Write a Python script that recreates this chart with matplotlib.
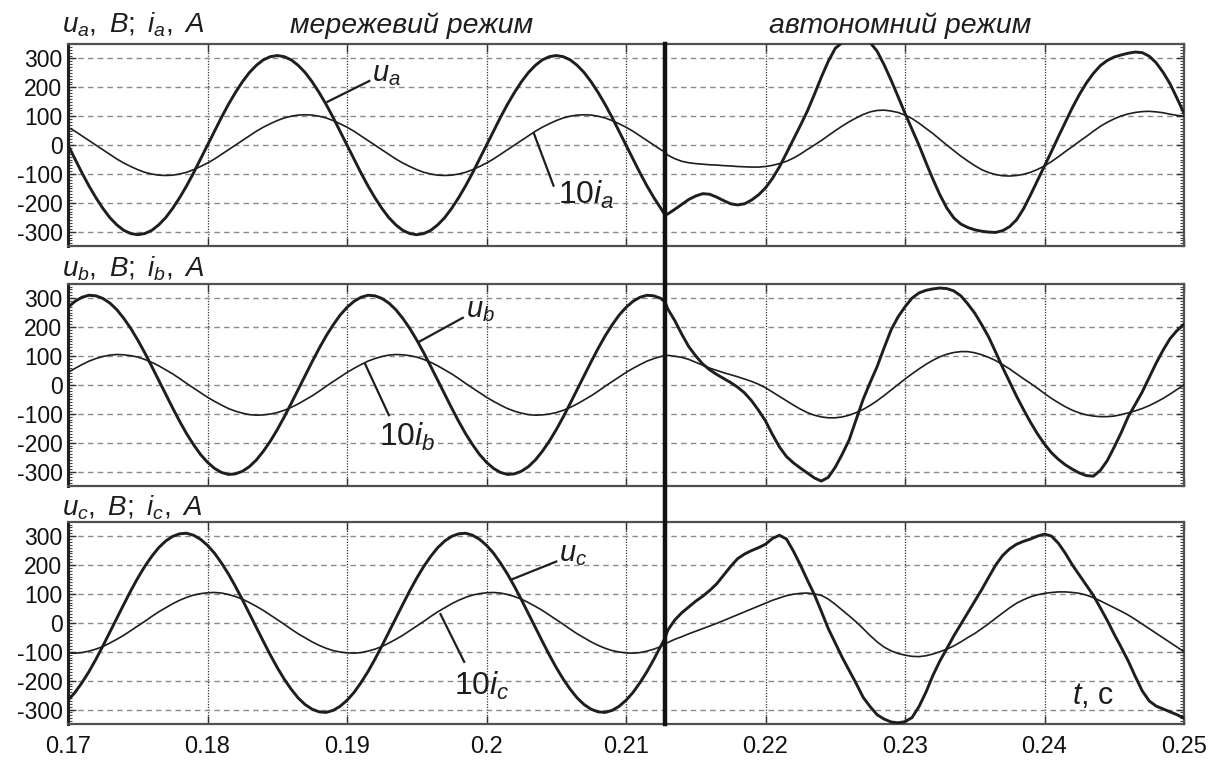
import numpy as np
import matplotlib
matplotlib.use("Agg")
import matplotlib.pyplot as plt
from matplotlib.ticker import MultipleLocator, FixedLocator
from matplotlib.lines import Line2D
import matplotlib.transforms as mtransforms

plt.rcParams['font.family'] = ['Liberation Sans', 'DejaVu Sans']
plt.rcParams['mathtext.fontset'] = 'custom'
plt.rcParams['mathtext.it'] = 'Liberation Sans:italic'
plt.rcParams['mathtext.rm'] = 'Liberation Sans'
plt.rcParams['mathtext.bf'] = 'Liberation Sans:bold'
plt.rcParams['axes.unicode_minus'] = False

# ---- data -------------------------------------------------------------
# sampling instants, ms: grid-connected part (0.5 ms step), switching
# instant, island part (0.5 ms step)
t_ms = np.r_[np.arange(340, 426) / 2, 212.8, np.arange(426, 501) / 2]
t = t_ms / 1000.0
t_switch = 0.2128

# phase a: voltage, V and 10x current, A
u_a = [0, -48, -96, -141, -182, -219, -251, -276, -295, -306,
       -310, -306, -295, -276, -251, -219, -182, -141, -96, -48,
       0, 48, 96, 141, 182, 219, 251, 276, 295, 306,
       310, 306, 295, 276, 251, 219, 182, 141, 96, 48,
       0, -48, -96, -141, -182, -219, -251, -276, -295, -306,
       -310, -306, -295, -276, -251, -219, -182, -141, -96, -48,
       0, 48, 96, 141, 182, 219, 251, 276, 295, 306,
       310, 306, 295, 276, 251, 219, 182, 141, 96, 48,
       0, -48, -96, -141, -182, -219,
       -242,
       -238, -222, -205, -188, -176, -168, -170, -180, -192, -203,
       -207, -203, -190, -172, -148, -115, -75, -28, 20, 68,
       118, 175, 235, 290, 335, 355, 365, 370, 368, 355,
       325, 278, 225, 168, 110, 55, 0, -60, -118, -172,
       -218, -252, -273, -285, -293, -298, -301, -302, -296, -282,
       -258, -220, -172, -122, -72, -22, 30, 80, 130, 175,
       215, 248, 275, 293, 305, 312, 318, 322, 320, 308,
       285, 252, 212, 162, 110]
i_a = [62, 48, 32, 16, 0, -16, -32, -48, -62, -74,
       -85, -94, -100, -104, -105, -104, -100, -94, -85, -74,
       -62, -48, -32, -16, 0, 16, 32, 48, 62, 74,
       85, 94, 100, 104, 105, 104, 100, 94, 85, 74,
       62, 48, 32, 16, 0, -16, -32, -48, -62, -74,
       -85, -94, -100, -104, -105, -104, -100, -94, -85, -74,
       -62, -48, -32, -16, 0, 16, 32, 48, 62, 74,
       85, 94, 100, 104, 105, 104, 100, 94, 85, 74,
       62, 48, 32, 16, 0, -16,
       -24,
       -35, -47, -56, -61, -64, -66, -68, -69, -71, -72,
       -74, -75, -76, -76, -74, -70, -64, -56, -45, -31,
       -15, 0, 16, 33, 50, 66, 81, 94, 106, 115,
       120, 121, 118, 113, 104, 92, 76, 58, 40, 20,
       0, -19, -38, -55, -71, -85, -95, -102, -106, -107,
       -105, -101, -94, -84, -72, -57, -40, -22, -5, 13,
       30, 48, 65, 79, 91, 101, 108, 113, 116, 117,
       115, 112, 107, 103, 100]

# phase b
u_b = [268, 289, 303, 310, 308, 299, 283, 260, 230, 195,
       155, 111, 64, 16, -32, -80, -126, -169, -207, -241,
       -268, -289, -303, -310, -308, -299, -283, -260, -230, -195,
       -155, -111, -64, -16, 32, 80, 126, 169, 207, 241,
       268, 289, 303, 310, 308, 299, 283, 260, 230, 195,
       155, 111, 64, 16, -32, -80, -126, -169, -207, -241,
       -268, -289, -303, -310, -308, -299, -283, -260, -230, -195,
       -155, -111, -64, -16, 32, 80, 126, 169, 207, 241,
       268, 289, 303, 310, 308, 299,
       286,
       262, 222, 175, 132, 100, 72, 52, 36, 22, 8,
       -8, -28, -55, -88, -125, -172, -215, -248, -270, -288,
       -305, -322, -333, -320, -285, -240, -190, -120, -50, 8,
       63, 128, 190, 235, 270, 300, 318, 327, 332, 335,
       333, 325, 308, 280, 248, 208, 165, 113, 60, 10,
       -40, -86, -130, -170, -205, -235, -258, -277, -292, -305,
       -314, -316, -296, -262, -215, -165, -110, -68, -25, 25,
       75, 120, 160, 188, 210]
i_b = [43, 57, 70, 82, 91, 98, 103, 105, 104, 101,
       96, 88, 78, 66, 52, 38, 22, 5, -11, -27,
       -43, -57, -70, -82, -91, -98, -103, -105, -104, -101,
       -96, -88, -78, -66, -52, -38, -22, -5, 11, 27,
       43, 57, 70, 82, 91, 98, 103, 105, 104, 101,
       96, 88, 78, 66, 52, 38, 22, 5, -11, -27,
       -43, -57, -70, -82, -91, -98, -103, -105, -104, -101,
       -96, -88, -78, -66, -52, -38, -22, -5, 11, 27,
       43, 57, 70, 82, 91, 98,
       101,
       102, 99, 95, 88, 78, 68, 58, 50, 42, 35,
       28, 20, 12, 2, -10, -25, -40, -55, -70, -84,
       -96, -105, -111, -114, -114, -111, -105, -96, -85, -71,
       -55, -37, -18, 1, 20, 38, 55, 71, 85, 97,
       106, 112, 115, 115, 111, 104, 95, 84, 70, 55,
       38, 21, 5, -12, -30, -47, -62, -76, -88, -97,
       -104, -108, -110, -110, -108, -103, -97, -90, -82, -72,
       -60, -47, -32, -16, 0]

# phase c
u_c = [-268, -241, -207, -169, -126, -80, -32, 16, 64, 111,
       155, 195, 230, 260, 283, 299, 308, 310, 303, 289,
       268, 241, 207, 169, 126, 80, 32, -16, -64, -111,
       -155, -195, -230, -260, -283, -299, -308, -310, -303, -289,
       -268, -241, -207, -169, -126, -80, -32, 16, 64, 111,
       155, 195, 230, 260, 283, 299, 308, 310, 303, 289,
       268, 241, 207, 169, 126, 80, 32, -16, -64, -111,
       -155, -195, -230, -260, -283, -299, -308, -310, -303, -289,
       -268, -241, -207, -169, -126, -80,
       -52,
       -25, 10, 35, 55, 75, 92, 112, 135, 165, 195,
       222, 238, 250, 260, 272, 292, 303, 290, 248, 200,
       148, 98, 40, -20, -70, -120, -165, -210, -258, -290,
       -318, -333, -343, -346, -342, -328, -290, -240, -182, -132,
       -89, -45, -5, 35, 75, 115, 158, 200, 233, 256,
       272, 282, 290, 300, 307, 300, 275, 240, 200, 165,
       130, 95, 52, 8, -40, -85, -132, -185, -235, -270,
       -288, -298, -308, -318, -330]
i_c = [-104, -105, -103, -98, -91, -82, -70, -57, -43, -27,
       -11, 5, 22, 38, 52, 66, 78, 88, 96, 101,
       104, 105, 103, 98, 91, 82, 70, 57, 43, 27,
       11, -5, -22, -38, -52, -66, -78, -88, -96, -101,
       -104, -105, -103, -98, -91, -82, -70, -57, -43, -27,
       -11, 5, 22, 38, 52, 66, 78, 88, 96, 101,
       104, 105, 103, 98, 91, 82, 70, 57, 43, 27,
       11, -5, -22, -38, -52, -66, -78, -88, -96, -101,
       -104, -105, -103, -98, -91, -82,
       -72,
       -68, -57, -48, -38, -29, -20, -11, -2, 8, 18,
       28, 38, 48, 58, 68, 78, 86, 94, 99, 102,
       103, 100, 95, 82, 64, 44, 24, 3, -20, -44,
       -66, -84, -97, -106, -112, -116, -117, -114, -108, -100,
       -91, -80, -66, -51, -37, -20, -3, 16, 34, 52,
       68, 80, 90, 97, 102, 105, 107, 107, 105, 102,
       96, 87, 76, 64, 52, 40, 27, 12, -4, -20,
       -36, -52, -68, -84, -100]

x_ticks = [0.17, 0.18, 0.19, 0.20, 0.21, 0.22, 0.23, 0.24, 0.25]
x_tick_labels = ['0.17', '0.18', '0.19', '0.2', '0.21', '0.22', '0.23', '0.24', '0.25']
y_ticks = [-300, -200, -100, 0, 100, 200, 300]

panel_titles = [r'$u_a,\ B;\ i_a,\ A$', r'$u_b,\ B;\ i_b,\ A$', r'$u_c,\ B;\ i_c,\ A$']
u_names = [r'$u_a$', r'$u_b$', r'$u_c$']
i_names = [r'$\mathrm{10}i_a$', r'$\mathrm{10}i_b$', r'$\mathrm{10}i_c$']
mode_grid = 'мережевий режим'
mode_island = 'автономний режим'

# ---- figure -----------------------------------------------------------
ink = '#1e1e1e'
fig = plt.figure(figsize=(12.19, 7.62), dpi=100)
left, width, height = 0.0558, 0.9155, 0.2655
bottoms = [0.6768, 0.3622, 0.0499]

series = [(u_a, i_a), (u_b, i_b), (u_c, i_c)]

# leader lines: (curve point), (label end), label anchor
u_lead = [((0.1886, 150), (0.1916, 222), (0.1918, 222)),
          ((0.1952, 150), (0.1983, 232), (0.1985, 234)),
          ((0.2018, 150), (0.2050, 212), (0.2052, 212))]
i_lead = [((0.2034, 40), (0.2048, -140), (0.2051, -203)),
          ((0.1913, 72), (0.1930, -105), (0.1923, -212)),
          ((0.1967, 30), (0.1984, -135), (0.1977, -249))]
header_y = [0.9567, 0.6365, 0.3241]

axes = []
for k, (u, i) in enumerate(series):
    ax = fig.add_axes([left, bottoms[k], width, height])
    axes.append(ax)
    ax.plot(t, i, color=ink, lw=1.2, zorder=3, solid_joinstyle='round')
    ax.plot(t, u, color=ink, lw=2.1, zorder=4, solid_joinstyle='round')
    ax.set_xlim(0.17, 0.25)
    ax.set_ylim(-350, 350)
    ax.xaxis.set_major_locator(FixedLocator(x_ticks))
    ax.yaxis.set_major_locator(FixedLocator(y_ticks))
    ax.yaxis.set_minor_locator(MultipleLocator(10))
    ax.set_yticklabels([str(v) for v in y_ticks], fontsize=16.5, color='#111')
    if k == 2:
        ax.set_xticklabels(x_tick_labels, fontsize=17, color='#111')
    else:
        ax.set_xticklabels([])
    ax.tick_params(axis='both', which='major', direction='in', length=6,
                   width=1.0, color='#333', top=True, right=True, pad=4)
    ax.tick_params(axis='x', which='major', pad=9)
    ax.tick_params(axis='y', which='minor', direction='in', length=3,
                   width=0.8, color='#444', left=True, right=True)
    ax.grid(axis='y', which='major', linestyle=(0, (4, 3)), color='#8a8a8a', lw=1.0)
    ax.grid(axis='x', which='major', linestyle=(0, (1, 1.2)), color='#333', lw=0.9)
    for side, sp in ax.spines.items():
        sp.set_linewidth(1.6)
        sp.set_color('#505050')
    ax.spines['left'].set_color('#222')
    ax.spines['left'].set_linewidth(2.2)

    (p0, p1, pt) = u_lead[k]
    ax.plot([p0[0], p1[0]], [p0[1], p1[1]], color=ink, lw=1.6, zorder=5)
    ax.text(pt[0], pt[1], u_names[k], fontsize=21, va='baseline', ha='left', color=ink)
    (q0, q1, qt) = i_lead[k]
    ax.plot([q0[0], q1[0]], [q0[1], q1[1]], color=ink, lw=1.6, zorder=5)
    ax.text(qt[0], qt[1], i_names[k], fontsize=23, va='baseline', ha='left', color=ink)

    fig.text(0.0505, header_y[k], panel_titles[k], fontsize=20, va='baseline',
             ha='left', color=ink)

axes[2].text(0.2420, -280, r'$t$, c', fontsize=22, va='baseline', ha='left', color=ink)

fig.text(0.338, 0.9567, mode_grid, fontsize=20.5, style='italic', va='baseline',
         ha='center', color=ink)
fig.text(0.7385, 0.9567, mode_island, fontsize=20.5, style='italic', va='baseline',
         ha='center', color=ink)

# switching instant across all three panels
trans = mtransforms.blended_transform_factory(axes[0].transData, fig.transFigure)
fig.add_artist(Line2D([t_switch, t_switch], [bottoms[2], bottoms[0] + height],
                      transform=trans, color='#111', lw=3.2, zorder=10))

fig.savefig('out.png', dpi=100)
